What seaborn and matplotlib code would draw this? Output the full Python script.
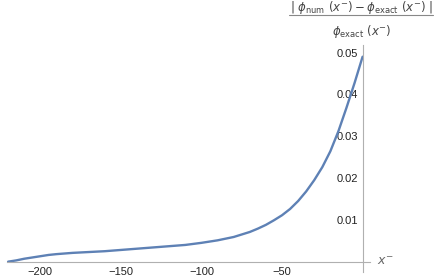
import numpy as np
import pandas as pd
import matplotlib
matplotlib.use("Agg")
import matplotlib.pyplot as plt
import seaborn as sns
from matplotlib.lines import Line2D
from matplotlib.ticker import FixedLocator, MultipleLocator

# values
x_minus = [-220, -215, -210, -205, -200, -195, -190, -180, -170, -160, -150,
           -140, -130, -120, -110, -100, -90, -80, -70, -65, -60, -55, -50,
           -45, -40, -35, -30, -25, -20, -15, -10, -5, 0]
rel_error = [0.0000, 0.0003, 0.0007, 0.0010, 0.0013, 0.0016, 0.0018, 0.0021,
             0.0023, 0.0025, 0.0028, 0.0031, 0.0034, 0.0037, 0.0040, 0.0045,
             0.0051, 0.0059, 0.0071, 0.0079, 0.0088, 0.0099, 0.0111, 0.0126,
             0.0145, 0.0168, 0.0195, 0.0226, 0.0264, 0.0312, 0.0368, 0.0427, 0.0490]
x_ticks = [-200, -150, -100, -50]
y_ticks = [0.01, 0.02, 0.03, 0.04, 0.05]

df = pd.DataFrame({"x": x_minus, "err": rel_error})

sns.set_style("white")
plt.rcParams["font.family"] = ["Liberation Sans", "DejaVu Sans"]
plt.rcParams["mathtext.fontset"] = "dejavusans"

fig = plt.figure(figsize=(4.36, 2.79), dpi=100)
ax = fig.add_axes([7 / 436, 7.3 / 279, 363 / 436, 226.7 / 279])

sns.lineplot(data=df, x="x", y="err", ax=ax, color="#5E81B5", linewidth=1.7)

ax.set_xlim(-220.7, 4.6)
ax.set_ylim(-0.0024, 0.0518)

# Mathematica style axes crossing at the origin
for side in ["top", "right"]:
    ax.spines[side].set_visible(False)
ax.spines["left"].set_position(("data", 0))
ax.spines["bottom"].set_position(("data", 0))
for side in ["left", "bottom"]:
    ax.spines[side].set_color("#b0b0b0")
    ax.spines[side].set_linewidth(0.8)

ax.xaxis.set_major_locator(FixedLocator(x_ticks))
ax.xaxis.set_minor_locator(MultipleLocator(10))
ax.yaxis.set_major_locator(FixedLocator(y_ticks))
ax.yaxis.set_minor_locator(FixedLocator(np.arange(0.002, 0.051, 0.002)))
ax.set_yticklabels([f"{v:.2f}" for v in y_ticks])

ax.tick_params(which="both", direction="in", color="#b0b0b0", width=0.7,
               labelsize=8, labelcolor="#222222")
ax.tick_params(which="major", length=3.2)
ax.tick_params(which="minor", length=1.8)
ax.tick_params(axis="x", pad=4)
ax.tick_params(axis="y", pad=3)
ax.set_xlabel("")
ax.set_ylabel("")

# axis labels
fig.text(377 / 436, 1 - 262 / 279, r"$x^{-}$", ha="left", va="center",
         fontsize=9, color="#666666")
fig.text(362 / 436, 1 - 7 / 279,
         r"$|\ \phi_{\mathrm{num}}\ (x^{-}) - \phi_{\mathrm{exact}}\ (x^{-})\ |$",
         ha="center", va="center", fontsize=8.5, color="#444444")
fig.add_artist(Line2D([289 / 436, 433 / 436], [1 - 15 / 279, 1 - 15 / 279],
                      transform=fig.transFigure, color="#888888", linewidth=0.8))
fig.text(362 / 436, 1 - 32 / 279, r"$\phi_{\mathrm{exact}}\ (x^{-})$",
         ha="center", va="center", fontsize=8.5, color="#444444")

fig.savefig("out.png", dpi=100)
